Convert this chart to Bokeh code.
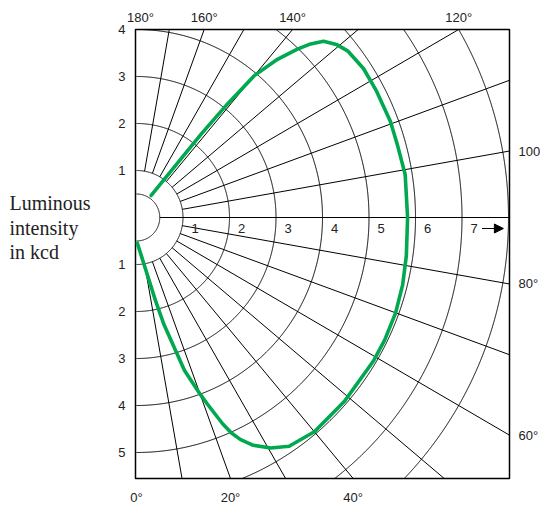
import numpy as np
from bokeh.plotting import figure
from bokeh.models import Range1d, Label, Arrow, NormalHead
from bokeh.embed import file_html
from bokeh.resources import INLINE

# ---- data: luminous intensity distribution (angle in degrees, intensity in kcd)
curve_angle = [2, 13, 14.5, 17.6, 20, 21, 22.9, 24.0, 25.35, 27.4, 30.5, 34, 40, 45, 49, 59,
               64, 70, 76, 82, 90, 99, 105.5, 110.5, 117.5, 123, 128, 130.6, 133, 134.6, 136,
               138, 140, 141, 141.9, 146]
curve_kcd = [0.55, 1.81, 2.34, 3.415, 4.00, 4.25, 4.77, 5.02, 5.23, 5.46, 5.69, 5.87, 5.95,
             5.93, 5.94, 5.94, 5.94, 5.93, 5.90, 5.86, 5.83, 5.85, 5.82, 5.83, 5.82, 5.82,
             5.76, 5.66, 5.50, 5.26, 4.98, 4.53, 3.94, 3.11, 2.26, 0.565]

grid_radii = [1, 2, 3, 4, 5, 6, 7, 8]
spoke_angles = list(range(10, 180, 10))
axis_tick_labels = ["1", "2", "3", "4", "5", "6", "7"]
left_upper_ticks = [4, 3, 2, 1]
left_lower_ticks = [1, 2, 3, 4, 5]
angle_top = [180, 160, 140, 120]
angle_top_labels = ["180°", "160°", "140°", "120°"]
angle_bottom = [0, 20, 40]
angle_bottom_labels = ["0°", "20°", "40°"]
angle_right = [100, 80, 60]
angle_right_labels = ["100", "80°", "60°"]
y_title = ["Luminous", "intensity", "in kcd"]

# diagram box (data units, kcd)
X0, X1 = -0.0215, 8.0215
Y0, Y1 = -5.553, 4.0
# whole canvas range (so that labels outside the box are not clipped)
SX, SY = 46.5, 47.0
W, H = 540, 508
CX, CY = 136.0, 217.0

def polar(r, a_deg):
    a = np.radians(np.asarray(a_deg, dtype=float))
    return np.asarray(r) * np.sin(a), -np.asarray(r) * np.cos(a)

p = figure(width=W, height=H,
           x_range=Range1d(-CX / SX, (W - CX) / SX),
           y_range=Range1d((CY - H) / SY, CY / SY),
           output_backend="svg", toolbar_location=None, x_axis_type=None, y_axis_type=None,
           min_border=0)
p.outline_line_color = None
p.background_fill_color = "white"
p.border_fill_color = "white"

xs, ys = [], []
# circles clipped to the box
for r in grid_radii + [0.5]:
    a0 = np.degrees(np.arccos(min(1.0, -Y0 / r))) if r > -Y0 else 0.0
    a1 = np.degrees(np.arccos(max(-1.0, -Y1 / r))) if r > Y1 else 180.0
    th = np.linspace(a0, a1, 800)
    x, y = polar(r, th)
    xs.append(list(x)); ys.append(list(y))
# spokes clipped to the box
for a in spoke_angles:
    s, c = np.sin(np.radians(a)), np.cos(np.radians(a))
    ts = [X1 / s]
    if c < -1e-9:
        ts.append(Y1 / -c)
    if c > 1e-9:
        ts.append(-Y0 / c)
    r0 = 0.5 if a == 90 else 1.0
    x, y = polar(np.array([r0, min(ts)]), [a, a])
    xs.append(list(x)); ys.append(list(y))
p.multi_line(xs, ys, line_color="black", line_width=1)

# box
p.quad(left=[X0], right=[X1], bottom=[Y0], top=[Y1], fill_color=None,
       line_color="black", line_width=1.5)

# curve
cx, cy = polar(np.array(curve_kcd), curve_angle)
p.line(cx, cy, line_color="#00A84F", line_width=3.6, line_join="round", line_cap="round")

FONT = "Liberation Sans"
TC = "#222222"
def lab(text, x, y, xo=0, yo=0, align="center", base="middle", font=FONT, size="13px"):
    p.add_layout(Label(x=x, y=y, x_offset=xo, y_offset=yo, text=text, text_align=align,
                       text_baseline=base, text_font=font, text_font_size=size, text_color=TC))

# radial scale labels along the 90° axis
for i, t in enumerate(axis_tick_labels):
    lab(t, float(i + 1), 0.0, xo=12, yo=-11)

# left scale labels
for r in left_upper_ticks:
    lab(str(r), X0, float(r), xo=-10, align="right")
for r in left_lower_ticks:
    lab(str(r), X0, -float(r), xo=-10, align="right")

# angle labels where the spokes leave the box
for a, t in zip(angle_top, angle_top_labels):
    tt = Y1 / -np.cos(np.radians(a))
    lab(t, tt * np.sin(np.radians(a)), Y1, xo=(4 if a == 180 else 0), yo=12, base="alphabetic")
for a, t in zip(angle_bottom, angle_bottom_labels):
    tt = -Y0 / np.cos(np.radians(a))
    lab(t, tt * np.sin(np.radians(a)), Y0, yo=-19, base="alphabetic")
for a, t in zip(angle_right, angle_right_labels):
    tt = X1 / np.sin(np.radians(a))
    lab(t, X1, -tt * np.cos(np.radians(a)), xo=9, align="left")

# arrow after the "7"
arrow_r = 7
p.add_layout(Arrow(end=NormalHead(size=9, fill_color="black", line_color="black"),
                   x_start=arrow_r + 0.43, y_start=-0.234, x_end=arrow_r + 0.89, y_end=-0.234,
                   line_color="black", line_width=1.2))

# axis title
for t, yo in zip(y_title, [15, -10, -34]):
    lab(t, X0, 0.0, xo=-126, yo=yo, align="left", base="alphabetic",
        font="Liberation Serif", size="20px")

open("out.html", "w").write(file_html(p, INLINE))
